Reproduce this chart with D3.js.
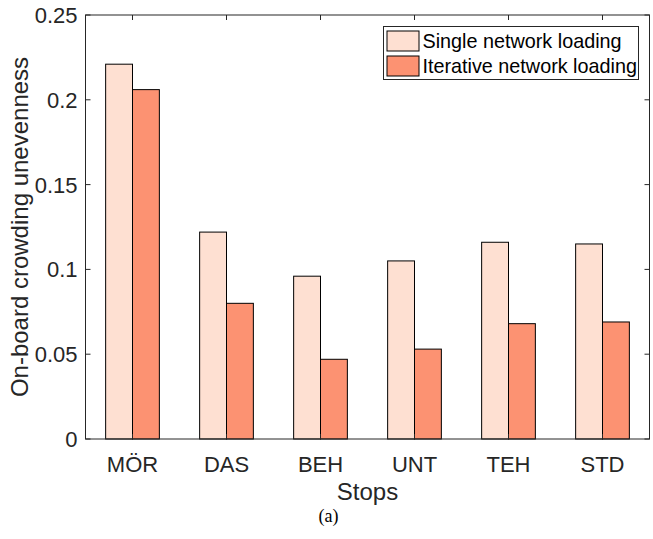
<!DOCTYPE html>
<html><head><meta charset="utf-8">
<script src="https://cdn.jsdelivr.net/npm/d3@7"></script>
<style>body{margin:0;background:#fff}svg{display:block}</style>
</head><body>
<script>
const categories = ["MÖR","DAS","BEH","UNT","TEH","STD"];
const seriesNames = ["Single network loading","Iterative network loading"];
const singleValues = [0.221,0.122,0.096,0.105,0.116,0.115];
const iterativeValues = [0.206,0.080,0.047,0.053,0.068,0.069];
const yTicks = [0,0.05,0.1,0.15,0.2,0.25];
const yTickLabels = ["0","0.05","0.1","0.15","0.2","0.25"];
const colors = ["#FEE0D2","#FC9272"];

const W=653,H=539;
const svg=d3.select("body").append("svg").attr("width",W).attr("height",H);
const L=85.5,R=649.5,T=15,B=439;
const x=d3.scaleLinear().domain([0.5,6.5]).range([L,R]);
const y=d3.scaleLinear().domain([0,0.25]).range([B,T]);
const bw=x(1.2857)-x(1);
const font="'Liberation Sans', Arial, Helvetica, sans-serif";
const axc="#262626";

const series=[singleValues,iterativeValues];
series.forEach((vals,si)=>{
  svg.append("g").selectAll("rect").data(vals).join("rect")
    .attr("x",(d,i)=>x(i+1)+(si===0?-bw:0))
    .attr("y",d=>y(d))
    .attr("width",bw)
    .attr("height",d=>y(0)-y(d))
    .attr("fill",colors[si])
    .attr("stroke","#000").attr("stroke-width",1);
});

// box and ticks
const g=svg.append("g").attr("stroke",axc).attr("stroke-width",1).attr("fill","none");
g.append("rect").attr("x",L).attr("y",T).attr("width",R-L).attr("height",B-T);
yTicks.forEach(t=>{
  g.append("line").attr("x1",L).attr("x2",L+5).attr("y1",y(t)).attr("y2",y(t));
  g.append("line").attr("x1",R).attr("x2",R-5).attr("y1",y(t)).attr("y2",y(t));
});
categories.forEach((c,i)=>{
  g.append("line").attr("x1",x(i+1)).attr("x2",x(i+1)).attr("y1",T).attr("y2",T+5);
  g.append("line").attr("x1",x(i+1)).attr("x2",x(i+1)).attr("y1",B).attr("y2",B-5);
});

// tick labels
svg.append("g").selectAll("text").data(yTicks).join("text")
  .attr("x",L-8).attr("y",d=>y(d)).attr("dy","0.36em")
  .attr("text-anchor","end").attr("font-family",font).attr("font-size",22).attr("fill",axc)
  .text((d,i)=>yTickLabels[i]);
svg.append("g").selectAll("text").data(categories).join("text")
  .attr("x",(d,i)=>x(i+1)).attr("y",472)
  .attr("text-anchor","middle").attr("font-family",font).attr("font-size",22).attr("fill",axc)
  .text(d=>d);

// axis labels
svg.append("text").attr("x",(L+R)/2).attr("y",499.5)
  .attr("text-anchor","middle").attr("font-family",font).attr("font-size",24).attr("fill",axc).text("Stops");
svg.append("text").attr("transform",`translate(28,${(T+B)/2}) rotate(-90)`)
  .attr("text-anchor","middle").attr("font-family",font).attr("font-size",24).attr("fill",axc)
  .text("On-board crowding unevenness");

// legend
const lg=svg.append("g");
lg.append("rect").attr("x",383.5).attr("y",26.5).attr("width",255).attr("height",53)
  .attr("fill","#fff").attr("stroke",axc).attr("stroke-width",1);
seriesNames.forEach((n,i)=>{
  lg.append("rect").attr("x",387).attr("y",31+i*25).attr("width",32).attr("height",20)
    .attr("fill",colors[i]).attr("stroke","#000").attr("stroke-width",1);
  lg.append("text").attr("x",422.5).attr("y",41+i*25).attr("dy","0.36em")
    .attr("font-family",font).attr("font-size",19.8).attr("fill","#000").text(n);
});

// caption
svg.append("text").attr("x",328.5).attr("y",522).attr("text-anchor","middle")
  .attr("font-family","'Liberation Serif','DejaVu Serif',serif").attr("font-size",18).attr("fill","#000").text("(a)");
</script>
</body></html>
